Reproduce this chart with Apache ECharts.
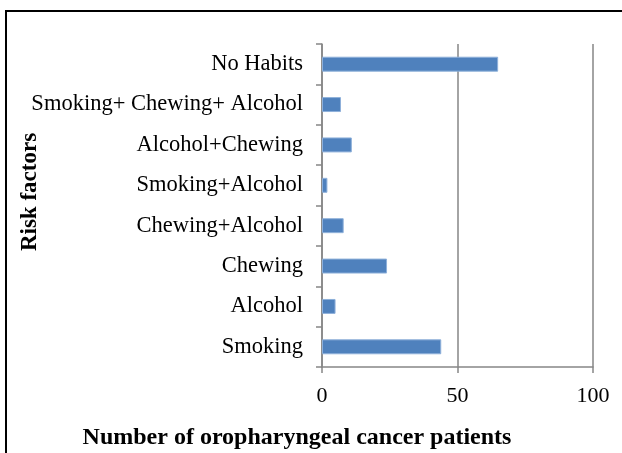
<!DOCTYPE html>
<html>
<head>
<meta charset="utf-8">
<script src="https://cdn.jsdelivr.net/npm/echarts@6/dist/echarts.min.js"></script>
<style>
  html, body { margin: 0; padding: 0; background: #fff; }
  #chart { width: 622px; height: 453px; }
</style>
</head>
<body>
<div id="chart"></div>
<script>
/* ---------- data ---------- */
const categories = [
  'Smoking',
  'Alcohol',
  'Chewing',
  'Chewing+Alcohol',
  'Smoking+Alcohol',
  'Alcohol+Chewing',
  'Smoking+ Chewing+ Alcohol',
  'No Habits'
]
const patients = [44, 5, 24, 8, 2, 11, 7, 65]
const xTicks = [0, 50, 100]

const serif = '"Liberation Serif", "Times New Roman", serif'
const axisGray = '#868686'

const chart = echarts.init(document.getElementById('chart'))

chart.setOption({
  animation: false,
  grid: { left: 322, top: 44, right: 29, bottom: 86 },
  graphic: [
    {
      type: 'rect',
      shape: { x: 6, y: 11, width: 700, height: 500 },
      style: { fill: 'none', stroke: '#000', lineWidth: 2 }
    },
    {
      type: 'text',
      x: 297,
      y: 438,
      style: {
        text: 'Number of oropharyngeal cancer patients',
        font: 'bold 24px ' + serif,
        fill: '#000',
        align: 'center',
        verticalAlign: 'middle'
      }
    },
    {
      type: 'text',
      x: 30,
      y: 192,
      rotation: Math.PI / 2,
      style: {
        text: 'Risk factors',
        font: 'bold 23px ' + serif,
        fill: '#000',
        align: 'center',
        verticalAlign: 'middle'
      }
    }
  ],
  xAxis: {
    type: 'value',
    min: xTicks[0],
    max: xTicks[xTicks.length - 1],
    interval: xTicks[1] - xTicks[0],
    axisLine: { show: true, lineStyle: { color: axisGray, width: 1.5 } },
    axisTick: { show: true, length: 6, lineStyle: { color: axisGray, width: 1.5 } },
    axisLabel: { color: '#000', fontFamily: serif, fontSize: 22, margin: 18 },
    splitLine: { show: true, lineStyle: { color: axisGray, width: 1.5 } }
  },
  yAxis: {
    type: 'category',
    data: categories,
    axisLine: { show: true, lineStyle: { color: axisGray, width: 1.5 } },
    axisTick: { show: true, length: 6, lineStyle: { color: axisGray, width: 1.5 } },
    axisLabel: { color: '#000', fontFamily: serif, fontSize: 22.5, margin: 19 },
    splitLine: { show: false }
  },
  series: [
    {
      type: 'bar',
      data: patients,
      barWidth: '37%',
      itemStyle: {
        color: '#4F81BD',
        borderColor: '#8EB0DA',
        borderWidth: 1
      }
    }
  ]
})
</script>
</body>
</html>
